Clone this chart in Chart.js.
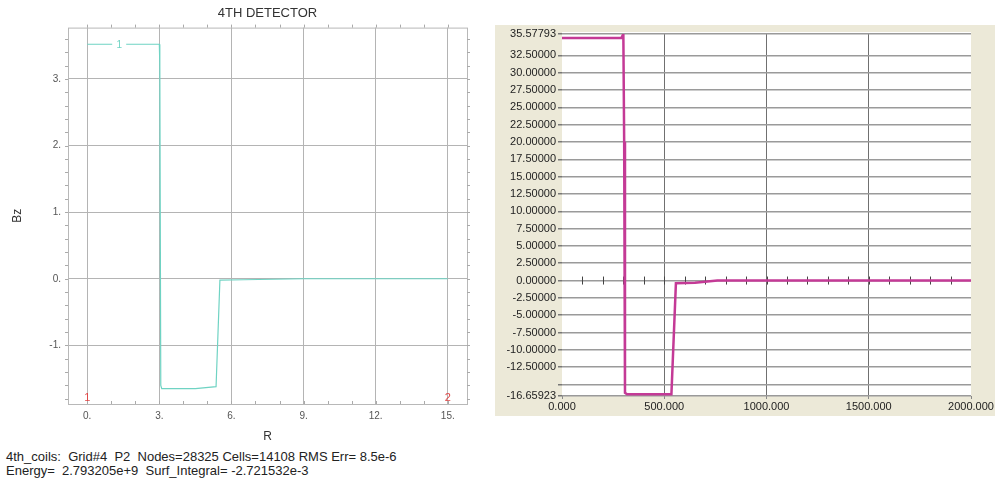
<!DOCTYPE html>
<html lang="en">
<head>
    <meta charset="UTF-8">
    <title>4TH DETECTOR</title>
    <script src="https://cdn.jsdelivr.net/npm/chart.js"></script>
    <style>
        body { margin: 0; background: #fff; width: 995px; height: 484px; overflow: hidden; position: relative; font-family: Arial, "Liberation Sans", sans-serif; }
        #leftBox { position: absolute; left: 0; top: 0; width: 490px; height: 445px; }
        #rightBox { position: absolute; left: 495px; top: 25px; width: 500px; height: 391px; background: #ece9d8; }
        #footer { position: absolute; left: 6px; top: 450px; font-size: 13px; line-height: 14px; color: #222; white-space: pre; }
    </style>
</head>
<body>
    <div id="leftBox"><canvas id="leftChart"></canvas></div>
    <div id="rightBox"><canvas id="rightChart"></canvas></div>
    <div id="footer">4th_coils:  Grid#4  P2  Nodes=28325 Cells=14108 RMS Err= 8.5e-6
Energy=  2.793205e+9  Surf_Integral= -2.721532e-3</div>

    <script>
        // left plot (Bz vs R)
        const leftR  = [0, 3.0, 3.02, 3.06, 3.1, 4.5, 5.36, 5.52, 6.5, 9, 15];
        const leftBz = [3.52, 3.52, 3.2, -1.6, -1.65, -1.65, -1.62, -0.02, -0.015, 0, 0];
        const leftXTicks = [0, 3, 6, 9, 12, 15];
        const leftYTicks = [-1, 0, 1, 2, 3];
        const leftCurveLabel = { x: 1.33, y: 3.52, text: '1' };
        const leftEndMarks = [{ x: 0, text: '1' }, { x: 15, text: '2' }];

        // right plot
        const rightX = [0, 290, 300, 304, 308, 318, 535, 557, 650, 760, 2000];
        const rightY = [35.0, 35.0, 35.58, 20, -16.2, -16.4, -16.4, -0.4, -0.3, 0, 0];
        const rightXTicks = [0, 500, 1000, 1500, 2000];
        const rightYTicks = [-16.65923, -15, -12.5, -10, -7.5, -5, -2.5, 0, 2.5, 5, 7.5, 10, 12.5, 15, 17.5, 20, 22.5, 25, 27.5, 30, 32.5, 35.57793];
        const rightYLabels = ['-16.65923', '', '-12.50000', '-10.00000', '-7.50000', '-5.00000', '-2.50000', '0.00000', '2.50000', '5.00000', '7.50000', '10.00000', '12.50000', '15.00000', '17.50000', '20.00000', '22.50000', '25.00000', '27.50000', '30.00000', '32.50000', '35.57793'];
        const rightMinorStep = 100;

        Chart.defaults.font.family = 'Arial, "Liberation Sans", sans-serif';
        Chart.defaults.animation = false;

        const setTicks = list => scale => { scale.ticks = list.map(v => ({ value: v })); };

        // frame, minor ticks and little labels of the left plot
        const leftDecor = {
            id: 'leftDecor',
            afterDatasetsDraw(chart) {
                const { ctx, chartArea: a, scales: { x, y } } = chart;
                ctx.save();
                ctx.strokeStyle = '#b8b8b8';
                ctx.lineWidth = 1;
                ctx.strokeRect(a.left + 0.5, a.top + 0.5, a.right - a.left, a.bottom - a.top);
                ctx.strokeStyle = '#aaa';
                ctx.beginPath();
                for (let v = 0; v <= 15; v++) {
                    const px = Math.round(x.getPixelForValue(v)) + 0.5;
                    ctx.moveTo(px, a.top - 3); ctx.lineTo(px, a.top);
                    ctx.moveTo(px, a.bottom - 3); ctx.lineTo(px, a.bottom);
                }
                for (let v = -1.8; v <= 3.7; v += 0.2) {
                    const py = Math.round(y.getPixelForValue(v)) + 0.5;
                    ctx.moveTo(a.left - 3, py); ctx.lineTo(a.left, py);
                    ctx.moveTo(a.right, py); ctx.lineTo(a.right + 3, py);
                }
                ctx.stroke();

                ctx.font = '10px Arial, "Liberation Sans"';
                ctx.textAlign = 'center';
                ctx.textBaseline = 'middle';
                const lx = x.getPixelForValue(leftCurveLabel.x);
                const ly = y.getPixelForValue(leftCurveLabel.y);
                ctx.fillStyle = '#fff';
                ctx.fillRect(lx - 7, ly - 3, 14, 6);
                ctx.fillStyle = '#6fd3c3';
                ctx.fillText(leftCurveLabel.text, lx, ly + 1);

                ctx.fillStyle = '#e04848';
                ctx.font = '11px Arial, "Liberation Sans"';
                leftEndMarks.forEach(m => {
                    ctx.fillText(m.text, x.getPixelForValue(m.x), a.bottom - 6);
                });
                ctx.restore();
            }
        };

        new Chart(document.getElementById('leftChart'), {
            type: 'scatter',
            data: {
                datasets: [{
                    data: leftR.map((r, i) => ({ x: r, y: leftBz[i] })),
                    showLine: true,
                    borderColor: '#6fd3c3',
                    borderWidth: 1.2,
                    pointRadius: 0,
                    tension: 0
                }]
            },
            options: {
                responsive: true,
                maintainAspectRatio: false,
                layout: { padding: { left: 0, right: 23, top: 0, bottom: 0 } },
                plugins: {
                    legend: { display: false },
                    tooltip: { enabled: false },
                    title: {
                        display: true,
                        fullSize: false,
                        text: '4TH DETECTOR',
                        color: '#333',
                        font: { size: 13, weight: 'normal' },
                        padding: { top: 6, bottom: 6 }
                    }
                },
                scales: {
                    x: {
                        type: 'linear',
                        min: -0.8,
                        max: 15.8,
                        afterBuildTicks: setTicks(leftXTicks),
                        afterFit: s => { s.height = 41; },
                        grid: { color: '#b4b4b4', drawTicks: false },
                        border: { display: false },
                        ticks: { color: '#555', font: { size: 10 }, padding: 6, maxRotation: 0, callback: v => v + '.' },
                        title: { display: true, text: 'R', color: '#333', font: { size: 12 }, padding: { top: 0, bottom: 1 } }
                    },
                    y: {
                        min: -1.88,
                        max: 3.77,
                        afterBuildTicks: setTicks(leftYTicks),
                        afterFit: s => { s.width = 68; },
                        grid: { color: '#b4b4b4', drawTicks: false },
                        border: { display: false },
                        ticks: { color: '#555', font: { size: 10 }, padding: 7, callback: v => v + '.' },
                        title: { display: true, text: 'Bz', color: '#333', font: { size: 12 }, padding: { top: 10, bottom: 0 } }
                    }
                }
            },
            plugins: [leftDecor]
        });

        // white plot area and the small ticks along y = 0
        const rightDecor = {
            id: 'rightDecor',
            beforeDraw(chart) {
                const { ctx, chartArea: a } = chart;
                ctx.save();
                ctx.fillStyle = '#fff';
                ctx.fillRect(a.left, a.top - 2, a.right - a.left, a.bottom - a.top + 2);
                ctx.restore();
            },
            beforeDatasetsDraw(chart) {
                const { ctx, scales: { x, y } } = chart;
                const py = y.getPixelForValue(0);
                ctx.save();
                ctx.strokeStyle = '#444';
                ctx.lineWidth = 1;
                ctx.beginPath();
                for (let v = rightMinorStep; v < x.max; v += rightMinorStep) {
                    const px = Math.round(x.getPixelForValue(v)) + 0.5;
                    ctx.moveTo(px, py - 4); ctx.lineTo(px, py + 4);
                }
                ctx.stroke();
                ctx.restore();
            }
        };

        const xEdge = v => v === 0 || v === 2000;

        new Chart(document.getElementById('rightChart'), {
            type: 'scatter',
            data: {
                datasets: [{
                    data: rightX.map((v, i) => ({ x: v, y: rightY[i] })),
                    showLine: true,
                    borderColor: '#c43a96',
                    borderWidth: 2.5,
                    pointRadius: 0,
                    tension: 0
                }]
            },
            options: {
                responsive: true,
                maintainAspectRatio: false,
                layout: { padding: { left: 0, right: 24, top: 9, bottom: 0 } },
                plugins: { legend: { display: false }, tooltip: { enabled: false } },
                scales: {
                    x: {
                        type: 'linear',
                        min: 0,
                        max: 2000,
                        afterBuildTicks: setTicks(rightXTicks),
                        afterFit: s => { s.height = 20; },
                        grid: {
                            color: c => xEdge(c.tick.value) ? 'rgba(0,0,0,0)' : '#707070',
                            lineWidth: 1,
                            tickLength: 3,
                            tickColor: '#888'
                        },
                        border: { display: false },
                        ticks: { color: '#222', font: { size: 11 }, padding: 1, maxRotation: 0, callback: v => v.toFixed(3) }
                    },
                    y: {
                        min: -16.65923,
                        max: 35.57793,
                        afterBuildTicks: setTicks(rightYTicks),
                        afterFit: s => { s.width = 67; },
                        grid: { color: '#9a9a9a', lineWidth: 1.5, tickLength: 4, tickColor: '#777' },
                        border: { display: false },
                        ticks: {
                            color: '#222',
                            font: { size: 11 },
                            padding: 2,
                            autoSkip: false,
                            callback: (v, i) => rightYLabels[i]
                        }
                    }
                }
            },
            plugins: [rightDecor]
        });
    </script>
</body>
</html>
